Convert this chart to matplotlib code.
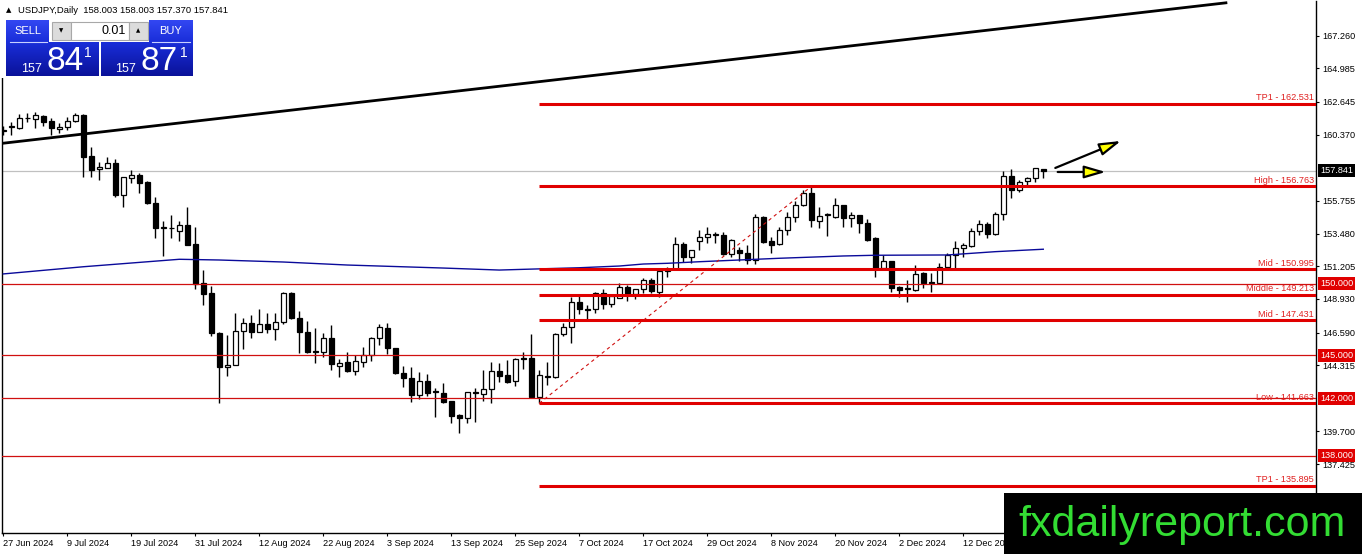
import matplotlib
matplotlib.use('Agg')
import matplotlib.pyplot as plt
import matplotlib.transforms as mtransforms
from matplotlib.patches import Rectangle
import numpy as np

plt.rcParams['font.family'] = ['Liberation Sans', 'DejaVu Sans']

# ---------------- data ----------------
opens = [160.65, 160.90, 160.81, 161.50, 161.44, 161.69, 161.34, 160.74, 160.88, 161.34,
         161.74, 158.88, 157.96, 158.07, 158.42, 156.17, 157.37, 157.56, 157.09, 155.59,
         153.87, 153.90, 153.68, 154.08, 152.75, 150.02, 149.32, 146.58, 144.17, 144.31,
         146.69, 147.23, 146.62, 147.16, 146.81, 147.30, 149.32, 147.58, 146.62, 145.30,
         145.21, 146.22, 144.28, 144.52, 143.93, 144.56, 145.03, 146.19, 146.88, 145.49,
         143.75, 143.40, 142.24, 143.21, 142.52, 142.36, 141.84, 140.85, 140.62, 142.43,
         142.30, 142.64, 143.91, 143.63, 143.21, 144.79, 144.84, 142.12, 143.59, 143.52,
         146.47, 146.95, 148.73, 148.24, 148.21, 149.32, 148.55, 149.00, 149.74, 149.27,
         149.60, 150.25, 149.43, 150.87, 150.99, 152.75, 151.83, 152.96, 153.22, 153.39,
         153.38, 152.04, 152.33, 152.10, 151.64, 154.61, 152.96, 152.73, 153.73, 154.61,
         155.47, 156.33, 154.36, 154.80, 154.66, 155.47, 154.59, 154.77, 154.19, 153.15,
         151.11, 151.57, 149.78, 149.60, 149.55, 150.71, 150.11, 150.06, 151.17, 151.99,
         152.45, 152.64, 153.66, 154.12, 153.43, 154.82, 157.49, 156.52, 157.14, 157.37,
         158.003]
highs = [160.95, 161.27, 161.81, 161.85, 161.97, 161.74, 161.51, 161.16, 161.62, 161.90,
         161.81, 159.49, 158.49, 158.83, 158.65, 157.40, 157.91, 157.72, 157.14, 156.01,
         154.38, 154.77, 154.38, 155.31, 153.96, 150.94, 149.83, 146.60, 146.42, 147.93,
         147.58, 147.81, 148.21, 147.93, 147.93, 149.43, 149.40, 148.09, 147.39, 146.88,
         146.53, 147.12, 144.72, 145.23, 145.03, 145.56, 146.30, 147.18, 147.23, 145.50,
         144.26, 144.17, 143.86, 143.70, 142.70, 143.09, 141.84, 140.90, 142.45, 142.70,
         143.98, 144.52, 144.45, 144.68, 144.84, 145.21, 146.49, 143.98, 144.56, 146.58,
         147.23, 149.08, 149.13, 148.51, 149.43, 149.60, 149.27, 150.02, 149.90, 149.60,
         150.40, 150.40, 150.99, 151.17, 153.26, 152.91, 152.35, 153.73, 153.92, 153.57,
         153.61, 153.10, 152.57, 152.68, 154.84, 154.70, 153.26, 153.96, 154.96, 155.77,
         156.52, 156.763, 155.35, 154.89, 155.93, 155.50, 155.00, 154.80, 154.47, 153.26,
         151.99, 151.60, 149.80, 150.25, 151.29, 150.82, 150.76, 151.41, 152.15, 152.96,
         152.80, 153.85, 154.42, 154.31, 155.00, 157.84, 157.98, 157.21, 157.40, 158.07,
         158.003]
lows = [160.35, 160.35, 160.78, 161.27, 160.81, 160.99, 160.35, 160.46, 160.69, 161.27,
        157.44, 157.40, 157.21, 158.03, 156.05, 155.35, 156.98, 156.28, 155.54, 153.15,
        151.94, 153.15, 152.98, 152.65, 149.60, 148.50, 146.35, 141.66, 143.56, 144.31,
        145.42, 146.22, 146.62, 146.58, 146.07, 147.20, 147.50, 145.19, 145.19, 144.45,
        144.86, 143.98, 143.47, 143.87, 143.63, 144.21, 144.63, 145.72, 145.09, 143.70,
        142.82, 141.77, 141.94, 142.17, 140.69, 141.70, 140.27, 139.57, 140.31, 140.38,
        141.84, 141.70, 143.17, 143.09, 142.87, 144.05, 142.10, 141.66, 142.94, 143.40,
        146.35, 145.88, 147.86, 147.39, 147.97, 148.23, 148.39, 148.98, 148.80, 148.90,
        149.32, 149.36, 149.08, 150.48, 150.95, 151.52, 151.41, 152.33, 152.80, 152.80,
        151.99, 151.83, 151.57, 151.34, 151.34, 152.80, 152.15, 152.70, 153.38, 154.31,
        155.40, 153.96, 153.89, 153.31, 154.54, 153.96, 153.96, 153.54, 152.98, 150.48,
        151.10, 149.43, 149.08, 148.69, 149.50, 149.67, 149.39, 150.02, 151.10, 151.10,
        151.87, 152.57, 153.38, 153.15, 153.40, 154.43, 155.98, 156.35, 156.86, 157.09,
        157.370]
closes = [160.70, 160.93, 161.51, 161.53, 161.74, 161.27, 160.81, 160.92, 161.34, 161.74,
          158.83, 157.91, 158.14, 158.42, 156.17, 157.40, 157.56, 157.02, 155.59, 153.85,
          153.90, 153.84, 154.08, 152.68, 149.97, 149.30, 146.53, 144.17, 144.31, 146.69,
          147.23, 146.62, 147.16, 146.81, 147.30, 149.32, 147.58, 146.62, 145.25, 145.22,
          146.22, 144.38, 144.49, 143.93, 144.63, 145.03, 146.19, 146.95, 145.49, 143.75,
          143.40, 142.24, 143.21, 142.40, 142.43, 141.77, 140.78, 140.62, 142.43, 142.36,
          142.64, 143.91, 143.58, 143.17, 144.72, 144.72, 142.12, 143.63, 143.52, 146.49,
          146.95, 148.73, 148.21, 148.15, 149.32, 148.55, 149.13, 149.74, 149.27, 149.60,
          150.25, 149.48, 150.90, 150.99, 152.75, 151.83, 152.33, 153.26, 153.43, 153.43,
          152.04, 153.03, 152.10, 151.64, 154.61, 152.91, 152.68, 153.73, 154.61, 155.47,
          156.33, 154.43, 154.70, 154.82, 155.47, 154.54, 154.77, 154.19, 153.03, 151.06,
          151.57, 149.71, 149.55, 149.62, 150.65, 150.06, 150.06, 151.17, 151.99, 152.45,
          152.68, 153.66, 154.12, 153.43, 154.82, 157.49, 156.52, 157.09, 157.37, 158.02,
          157.841]

date_label_bars = [0, 8, 16, 24, 32, 40, 48, 56, 64, 72, 80, 88, 96, 104, 112, 120]
date_labels = ['27 Jun 2024', '9 Jul 2024', '19 Jul 2024', '31 Jul 2024', '12 Aug 2024',
               '22 Aug 2024', '3 Sep 2024', '13 Sep 2024', '25 Sep 2024', '7 Oct 2024',
               '17 Oct 2024', '29 Oct 2024', '8 Nov 2024', '20 Nov 2024', '2 Dec 2024',
               '12 Dec 2024']

ytick_values = [167.260, 164.985, 162.645, 160.370, 155.755, 153.480, 151.205,
                148.930, 146.590, 144.315, 139.700, 137.425]

ma_bars = [0, 10, 22, 27, 35, 43, 55, 62, 65, 72, 77, 80, 83, 87, 97, 105, 109, 118, 124, 130]
ma_values = [150.67, 151.17, 151.69, 151.64, 151.50, 151.29, 151.08, 150.94, 150.99, 151.10,
             151.22, 151.36, 151.41, 151.52, 151.76, 151.92, 151.97, 151.99, 152.22, 152.39]

trend_bars = [-0.2, 153.0]
trend_prices = [159.76, 169.56]

fib_names = ['TP1', 'High', 'Mid', 'Middle', 'Mid', 'Low', 'TP1']
fib_values = [162.531, 156.763, 150.995, 149.213, 147.431, 141.663, 135.895]
fib_start_bar = 67
swing_bars = [67, 101]
swing_prices = [141.663, 156.763]

round_levels = [150.000, 145.000, 142.000, 138.000]
current_price = 157.841

arrow_start_bars = [131.5, 131.8]
arrow_start_prices = [158.05, 157.77]
arrow_end_bars = [139.7, 137.8]
arrow_end_prices = [159.93, 157.77]

symbol_title = 'USDJPY,Daily  158.003 158.003 157.370 157.841'

# ---------------- figure ----------------
W, H = 1362, 554
fig = plt.figure(figsize=(W / 100, H / 100), dpi=100)
fig.patch.set_facecolor('white')

ax = fig.add_axes([2 / W, 21 / H, 1314 / W, 532 / H])
ax.set_facecolor('white')
ax.set_xlim(-0.1625, 164.0875)
ax.set_ylim(132.629, 169.676)

x = np.arange(len(opens))
o = np.array(opens); h = np.array(highs); l = np.array(lows); c = np.array(closes)
up = c >= o
body_bottom = np.minimum(o, c)
body_h = np.maximum(np.abs(c - o), 0.06)

ax.vlines(x, l, h, color='black', lw=1.0, zorder=3)
ax.bar(x[up], body_h[up], bottom=body_bottom[up], width=0.62, facecolor='white',
       edgecolor='black', linewidth=0.9, zorder=4)
ax.bar(x[~up], body_h[~up], bottom=body_bottom[~up], width=0.62, facecolor='black',
       edgecolor='black', linewidth=0.9, zorder=4)

# moving average
ax.plot(ma_bars, ma_values, color='#0a0a9a', lw=1.0, zorder=5)

# trend line
ax.plot(trend_bars, trend_prices, color='black', lw=2.0, zorder=6, solid_capstyle='butt')

# current price line
ax.axhline(current_price, color='#c0c0c0', lw=0.9, zorder=2)

# round levels (thin)
for lv in round_levels:
    ax.axhline(lv, color='#d01010', lw=0.9, zorder=6)

# fib levels (thick)
xr = ax.get_xlim()[1]
ytrans = mtransforms.blended_transform_factory(ax.transAxes, ax.transData)
for name, lv in zip(fib_names, fib_values):
    ax.hlines(lv, fib_start_bar, xr, color='#e00000', lw=2.2, zorder=6)
    ax.text(0.9985, lv + 0.12, f'{name} - {lv:.3f}', transform=ytrans,
            ha='right', va='bottom', fontsize=6.6, color='#e02020', zorder=7)

# swing dashed line
ax.plot(swing_bars, swing_prices, color='#d01010', lw=0.8, ls=(0, (3, 3)), zorder=6)

# arrows
for sb, sp, eb, ep in zip(arrow_start_bars, arrow_start_prices, arrow_end_bars, arrow_end_prices):
    ax.annotate('', xy=(eb, ep), xytext=(sb, sp),
                arrowprops=dict(arrowstyle='-|>,head_length=1.3,head_width=0.38',
                                lw=1.6, fc='#ffff00', ec='black', shrinkA=0, shrinkB=0),
                zorder=8)

# axes styling
ax.spines['top'].set_visible(False)
for s in ['left', 'right', 'bottom']:
    ax.spines[s].set_color('black')
    ax.spines[s].set_linewidth(1.0)

ax.yaxis.tick_right()
ax.set_yticks(ytick_values)
ax.set_yticklabels([f'{v:.3f}' for v in ytick_values])
ax.tick_params(axis='y', direction='out', length=2.3, width=0.8, pad=2.0, labelsize=6.6, colors='black')
ax.set_xticks(date_label_bars)
ax.set_xticklabels(date_labels)
ax.tick_params(axis='x', direction='out', length=2.3, width=0.8, pad=2.0, labelsize=6.6, colors='black')
for lab in ax.get_xticklabels():
    lab.set_horizontalalignment('left')

for lv in round_levels:
    ax.text(1.003, lv, f'{lv:.3f}', transform=ytrans, ha='left', va='center', fontsize=6.6,
            color='white', zorder=9, clip_on=False,
            bbox=dict(boxstyle='square,pad=0.22', fc='#e00000', ec='none'))
ax.text(1.003, current_price, f'{current_price:.3f}', transform=ytrans, ha='left', va='center',
        fontsize=6.6, color='white', zorder=9, clip_on=False,
        bbox=dict(boxstyle='square,pad=0.22', fc='black', ec='none'))

# ---------------- overlay (trade panel, watermark) ----------------
ov = fig.add_axes([0, 0, 1, 1], zorder=10)
ov.set_xlim(0, W); ov.set_ylim(H, 0)
ov.axis('off'); ov.patch.set_alpha(0)
ov.set_autoscale_on(False)

ov.add_patch(Rectangle((0, 0), 196, 78, fc='white', ec='none', zorder=1))
ov.text(6, 10.5, '\u25b2', fontsize=5, color='black', va='center', ha='left', zorder=2,
        family=['DejaVu Sans'])
ov.text(18, 10.5, symbol_title, fontsize=6.8, color='black', va='center', ha='left', zorder=2)


def grad(x0, y0, x1, y1, top, bottom):
    t = np.linspace(0, 1, 64)[:, None, None]
    arr = np.array(top)[None, None, :] * (1 - t) + np.array(bottom)[None, None, :] * t
    ov.imshow(arr, extent=[x0, x1, y1, y0], aspect='auto', zorder=2, interpolation='bilinear')


top_c = (0.20, 0.28, 0.95)
bot_c = (0.04, 0.07, 0.60)
grad(6, 20, 49, 42, top_c, (0.10, 0.18, 0.85))
grad(149, 20, 193, 42, top_c, (0.10, 0.18, 0.85))
grad(6, 42, 99, 76, (0.10, 0.18, 0.85), bot_c)
grad(101, 42, 193, 76, (0.10, 0.18, 0.85), bot_c)
ov.plot([10, 47], [41.5, 41.5], color='#c8d0ff', lw=0.8, zorder=3)
ov.plot([152, 190], [41.5, 41.5], color='#c8d0ff', lw=0.8, zorder=3)
ov.text(27.5, 31, 'SELL', fontsize=8, color='white', ha='center', va='center', zorder=3)
ov.text(171, 31, 'BUY', fontsize=8, color='white', ha='center', va='center', zorder=3)

ov.add_patch(Rectangle((52, 21.5), 19, 18, fc='#dcdcdc', ec='#a8a8a8', lw=0.8, zorder=2))
ov.add_patch(Rectangle((71, 21.5), 58, 18, fc='white', ec='#a8a8a8', lw=0.8, zorder=2))
ov.add_patch(Rectangle((129, 21.5), 19, 18, fc='#dcdcdc', ec='#a8a8a8', lw=0.8, zorder=2))
ov.text(61.5, 30.5, '\u25bc', fontsize=4, color='black', ha='center', va='center', zorder=3,
        family=['DejaVu Sans'])
ov.text(138.5, 30.5, '\u25b2', fontsize=4, color='black', ha='center', va='center', zorder=3,
        family=['DejaVu Sans'])
ov.text(126, 31, '0.01', fontsize=9, color='black', ha='right', va='center', zorder=3)

ov.text(21, 72, '157', fontsize=9, color='white', ha='left', va='baseline', zorder=3)
ov.text(46, 70, '84', fontsize=24, color='white', ha='left', va='baseline', zorder=3)
ov.text(84, 57, '1', fontsize=10, color='white', ha='left', va='baseline', zorder=3)
ov.text(115, 72, '157', fontsize=9, color='white', ha='left', va='baseline', zorder=3)
ov.text(140, 70, '87', fontsize=24, color='white', ha='left', va='baseline', zorder=3)
ov.text(180, 57, '1', fontsize=10, color='white', ha='left', va='baseline', zorder=3)

# watermark
ov.add_patch(Rectangle((1004, 493), W - 1004, H - 493, fc='black', ec='none', zorder=4))
ov.text(1018, 536, 'fxdailyreport.com', fontsize=31, color='#33dd33', ha='left',
        va='baseline', zorder=5)

fig.savefig('out.png', dpi=100, facecolor='white')
